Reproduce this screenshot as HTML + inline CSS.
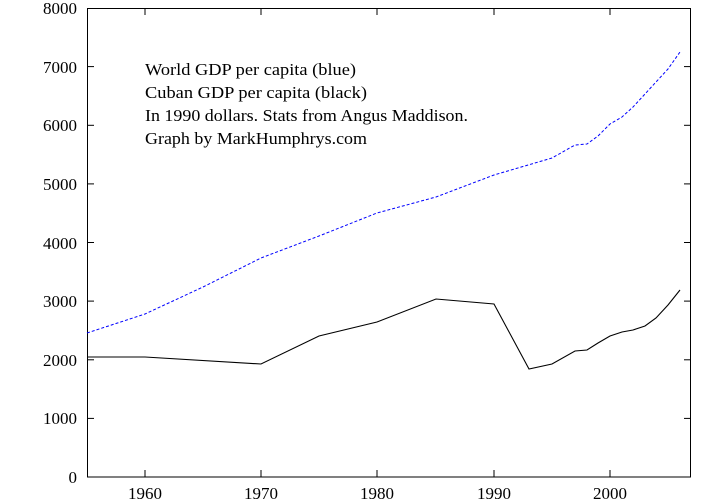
<!DOCTYPE html>
<html><head><style>html,body{margin:0;padding:0;background:#fff}svg{display:block}</style></head>
<body>
<svg width="720" height="504" xmlns="http://www.w3.org/2000/svg" font-family="Liberation Serif, serif" font-size="17">
<rect x="87.5" y="8.5" width="603" height="468.5" fill="none" stroke="#000" stroke-width="1"/>
<g stroke="#000" stroke-width="1">
<line x1="87" y1="418.4" x2="94" y2="418.4"/><line x1="691" y1="418.4" x2="684" y2="418.4"/>
<line x1="87" y1="359.8" x2="94" y2="359.8"/><line x1="691" y1="359.8" x2="684" y2="359.8"/>
<line x1="87" y1="301.1" x2="94" y2="301.1"/><line x1="691" y1="301.1" x2="684" y2="301.1"/>
<line x1="87" y1="242.5" x2="94" y2="242.5"/><line x1="691" y1="242.5" x2="684" y2="242.5"/>
<line x1="87" y1="183.9" x2="94" y2="183.9"/><line x1="691" y1="183.9" x2="684" y2="183.9"/>
<line x1="87" y1="125.3" x2="94" y2="125.3"/><line x1="691" y1="125.3" x2="684" y2="125.3"/>
<line x1="87" y1="66.6" x2="94" y2="66.6"/><line x1="691" y1="66.6" x2="684" y2="66.6"/>
<line x1="145" y1="477" x2="145" y2="470"/><line x1="145" y1="8" x2="145" y2="15"/>
<line x1="261" y1="477" x2="261" y2="470"/><line x1="261" y1="8" x2="261" y2="15"/>
<line x1="377" y1="477" x2="377" y2="470"/><line x1="377" y1="8" x2="377" y2="15"/>
<line x1="494" y1="477" x2="494" y2="470"/><line x1="494" y1="8" x2="494" y2="15"/>
<line x1="610" y1="477" x2="610" y2="470"/><line x1="610" y1="8" x2="610" y2="15"/>
</g>
<g text-anchor="end">
<text x="77" y="483">0</text><text x="77" y="424">1000</text><text x="77" y="366">2000</text>
<text x="77" y="307">3000</text><text x="77" y="249">4000</text><text x="77" y="190">5000</text>
<text x="77" y="131">6000</text><text x="77" y="73">7000</text><text x="77" y="14">8000</text>
</g>
<g text-anchor="middle">
<text x="145" y="499">1960</text><text x="261" y="499">1970</text><text x="377" y="499">1980</text>
<text x="494" y="499">1990</text><text x="610" y="499">2000</text>
</g>
<text x="145" y="75" textLength="211" lengthAdjust="spacingAndGlyphs">World GDP per capita (blue)</text>
<text x="145" y="98" textLength="222" lengthAdjust="spacingAndGlyphs">Cuban GDP per capita (black)</text>
<text x="145" y="121" textLength="323" lengthAdjust="spacingAndGlyphs">In 1990 dollars. Stats from Angus Maddison.</text>
<text x="145" y="144" textLength="222" lengthAdjust="spacingAndGlyphs">Graph by MarkHumphrys.com</text>
<polyline fill="none" stroke="#0000ff" stroke-width="1" stroke-dasharray="3,2" points="87,333 145,314 203,287 261,258 319,236 377,213 436,197 494,175 552,158 575,145 587,144 598,136 610,124 622,117 633,107 645,94 656,82 668,69 680,52"/>
<polyline fill="none" stroke="#000" stroke-width="1.1" points="87,357 145,357 261,364 319,336 377,322 436,299 494,304 529,369 552,364 575,351 587,350 598,343 610,336 622,332 633,330 645,326 656,318 668,305 680,290"/>
</svg>
</body></html>
